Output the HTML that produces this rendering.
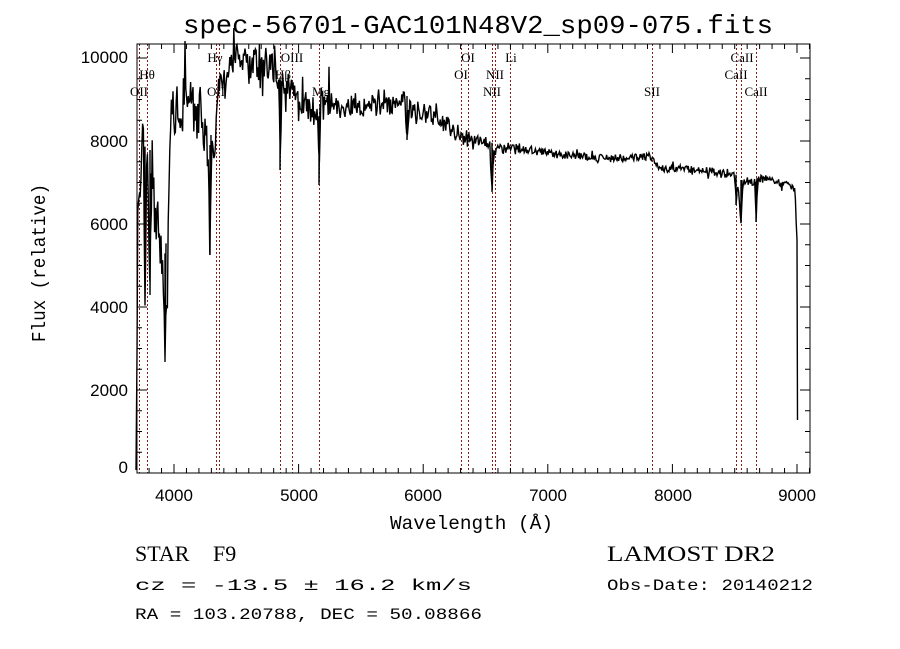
<!DOCTYPE html>
<html><head><meta charset="utf-8"><style>
html,body{margin:0;padding:0;background:#fff;}
svg{display:block;}
</style></head><body>
<svg id="s" width="900" height="649" xmlns="http://www.w3.org/2000/svg">
<rect width="900" height="649" fill="#fff"/>
<g id="vl" stroke="#8b1a1a" stroke-width="1" stroke-dasharray="2,2"></g>
<g id="ticks" stroke="#000" stroke-width="1"></g>
<rect x="137" y="44" width="673" height="429" fill="none" stroke="#000" stroke-width="1"/>
<path id="spec" fill="none" stroke="#000" stroke-width="1.4" stroke-linejoin="miter"/>
<g font-family="Liberation Serif, serif" font-size="13" fill="#000" text-anchor="middle">
<text x="139" y="96">OII</text>
<text x="147" y="79">Hθ</text>
<text x="215" y="62">Hγ</text>
<text x="216" y="96">OII</text>
<text x="292" y="62">OIII</text>
<text x="283" y="79">Hβ</text>
<text x="321" y="96">Mg</text>
<text x="468" y="62">OI</text>
<text x="461" y="79">OI</text>
<text x="495" y="79">NII</text>
<text x="492" y="96">NII</text>
<text x="511" y="62">Li</text>
<text x="652" y="96">SII</text>
<text x="742" y="62">CaII</text>
<text x="736" y="79">CaII</text>
<text x="756" y="96">CaII</text>
</g>
<g font-family="Liberation Sans, sans-serif" font-size="17" fill="#000" text-anchor="end">
<text x="128" y="63">10000</text>
<text x="128" y="147">8000</text>
<text x="128" y="230">6000</text>
<text x="128" y="313">4000</text>
<text x="128" y="396">2000</text>
<text x="128" y="473">0</text>
</g>
<g font-family="Liberation Sans, sans-serif" font-size="17" fill="#000" text-anchor="middle">
<text x="174" y="501">4000</text>
<text x="299" y="501">5000</text>
<text x="423" y="501">6000</text>
<text x="548" y="501">7000</text>
<text x="673" y="501">8000</text>
<text x="797" y="501">9000</text>
</g>
<g font-family="Liberation Mono, monospace" fill="#000" xml:space="preserve">
<text x="183" y="33" font-size="26" textLength="590" lengthAdjust="spacingAndGlyphs">spec-56701-GAC101N48V2_sp09-075.fits</text>
<text x="390" y="529" font-size="19" textLength="163" lengthAdjust="spacingAndGlyphs">Wavelength (Å)</text>
<text transform="translate(45,342) rotate(-90)" font-size="19" textLength="158" lengthAdjust="spacingAndGlyphs">Flux (relative)</text>
<text x="135" y="561" font-size="22" font-family="Liberation Serif, serif">STAR</text>
<text x="213" y="561" font-size="22" font-family="Liberation Serif, serif">F9</text>
<text x="607" y="561" font-size="22" textLength="168" lengthAdjust="spacingAndGlyphs" font-family="Liberation Serif, serif">LAMOST DR2</text>
<text x="135" y="590" font-size="16" textLength="337" lengthAdjust="spacingAndGlyphs">cz = -13.5 ± 16.2 km/s</text>
<text x="607" y="590" font-size="16" textLength="206" lengthAdjust="spacingAndGlyphs">Obs-Date: 20140212</text>
<text x="135" y="619" font-size="16" textLength="347" lengthAdjust="spacingAndGlyphs">RA = 103.20788, DEC =  50.08866</text>
</g>
</svg>
<script>
(function(){
var NS="http://www.w3.org/2000/svg";
function line(g,x1,y1,x2,y2){var l=document.createElementNS(NS,"line");l.setAttribute("x1",x1);l.setAttribute("y1",y1);l.setAttribute("x2",x2);l.setAttribute("y2",y2);g.appendChild(l);}
var vl=document.getElementById("vl");
[139,147,216,219,280,292,319,461,468,492,495,510,652,736,741,756].forEach(function(x){line(vl,x+0.5,44,x+0.5,473);});
var t=document.getElementById("ticks");
function X(l){return 174+(l-4000)*0.1246;}
for(var l=3800;l<=9100;l+=100){var x=X(l);if(x<137||x>810)continue;var maj=l%1000==0;var h=maj?9:5;line(t,x,473,x,473-h);line(t,x,44,x,44+h);}
function Y(f){return 473-f*0.0415;}
for(var f=0;f<=10000;f+=500){var y=Y(f);var maj=f%2000==0;var h=maj?10:5;line(t,137,y,137+h,y);line(t,810,y,810-h,y);}
var pts=[[136,470],[137,345],[138,180],[140,200],[143,120],[145,290],[147,150],[150,295],[152,145],[155,230],[158,200],[160,260],[163,250],[165,362],[167,300],[170,130],[172,110],[175,120],[178,100],[182,120],[185,75],[188,110],[192,100],[196,125],[200,105],[205,135],[208,150],[210,255],[212,130],[215,145],[218,85],[222,90],[228,70],[235,55],[240,65],[245,60],[250,70],[255,55],[260,75],[265,60],[270,65],[275,70],[279,85],[280,170],[282,80],[290,90],[295,95],[300,100],[310,105],[318,120],[319,185],[321,105],[330,100],[340,110],[350,105],[360,110],[370,100],[380,110],[390,105],[400,100],[405,95],[407,140],[409,110],[420,110],[430,115],[440,120],[450,130],[460,135],[470,140],[480,140],[490,143],[492,192],[494,150],[510,148],[530,150],[560,155],[600,158],[640,158],[650,155],[660,168],[700,170],[735,175],[736,205],[738,180],[741,222],[743,180],[755,182],[756,222],[758,178],[780,182],[795,188],[797,240],[797.5,420]];
var k=0;function rnd(){k++;var v=Math.sin(k*12.9898+78.233)*43758.5453;return v-Math.floor(v);}
function base(x){for(var i=0;i<pts.length-1;i++){if(x>=pts[i][0]&&x<=pts[i+1][0]){var a=pts[i],b=pts[i+1];var f=(x-a[0])/(b[0]-a[0]||1);return a[1]+(b[1]-a[1])*f;}}return pts[pts.length-1][1];}
var d="M"+pts[0][0]+","+pts[0][1];
for(var x=137;x<=797;x+=0.8){var y=base(x);var amp=x<215?22:(x<330?16:(x<460?10:(x<520?6:4)));var r=rnd()-0.5;var sp=rnd();if(sp>0.93)r*=2.2;y+=r*2*amp;d+=" L"+x.toFixed(1)+","+y.toFixed(1);}
var dips=[[145,290],[150,295],[165,362],[210,255],[280,170],[319,185],[407,140],[492,192],[741,222],[756,222],[736,205]];
var pd="";dips.forEach(function(p){pd+=" M"+p[0]+","+(base(p[0]-3))+" L"+p[0]+","+p[1]+" L"+(p[0]+1)+","+base(p[0]+3);});
d+=" L797.5,420";
document.getElementById("spec").setAttribute("d",d+pd);
})();
</script>
</body></html>
